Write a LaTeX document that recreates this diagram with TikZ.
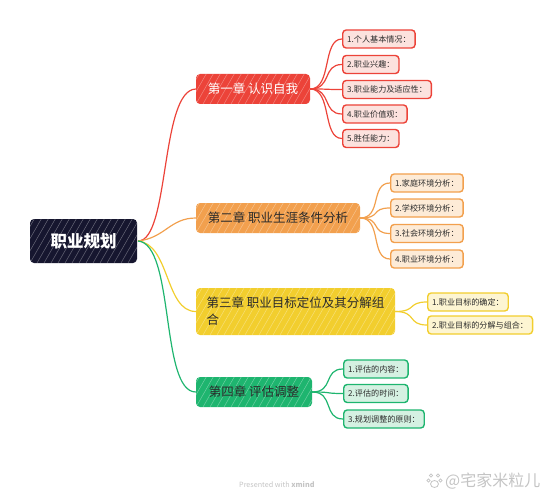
\documentclass[tikz,border=0pt]{standalone}
\usepackage{fontspec}
\setmainfont{Noto Sans CJK SC}
\newfontfamily\cjk{Noto Sans CJK SC}
\definecolor{rootc}{HTML}{16162F}
\definecolor{redc}{HTML}{EC4339}
\definecolor{redl}{HTML}{FCE2DE}
\definecolor{orac}{HTML}{F2A04E}
\definecolor{oral}{HTML}{FDEBD7}
\definecolor{yelc}{HTML}{F2CE2E}
\definecolor{yell}{HTML}{FDF5D2}
\definecolor{grec}{HTML}{1EB56F}
\definecolor{grel}{HTML}{D5F1E2}
\definecolor{txt}{HTML}{2B2B2B}
\definecolor{foot}{HTML}{C4C4C4}
\tikzset{
  hatch/.style={path picture={
    \foreach \k in {-70,-63,...,220}{
      \draw[white,opacity=#1,line width=.5pt]
        ([xshift=\k pt]path picture bounding box.south west) -- ++(35pt,61pt);
    }}},
  rootbox/.style={fill=rootc, rounded corners=4pt, inner sep=0pt, hatch=.35,
    minimum width=107pt, minimum height=44pt, text=white,
    font=\fontsize{16.5}{19}\selectfont\bfseries},
  chapbox/.style={fill=#1, rounded corners=4pt, inner sep=0pt, hatch=.35,
    minimum height=30pt, font=\fontsize{12.5}{17}\selectfont, text=txt},
  itembox/.style={draw=#1c, fill=#1l, line width=1.4pt, rounded corners=3.5pt,
    inner xsep=4.5pt, inner ysep=0pt, minimum height=18pt, anchor=west,
    font=\fontsize{8.1}{10}\selectfont, text=txt},
  conn/.style={line width=1.2pt, draw=#1},
}
\begin{document}
\begin{tikzpicture}[x=1pt,y=-1pt]
\useasboundingbox (0,0) rectangle (557,500);
% root
\node[rootbox] (root) at (83.5,241) {职业规划};
% chapters
\node[chapbox=redc, minimum width=114pt, text=white] (c1) at (253,89) {第一章 认识自我};
\node[chapbox=orac, minimum width=164pt] (c2) at (278,218) {第二章 职业生涯条件分析};
\node[chapbox=yelc, minimum width=199pt, minimum height=47pt, align=left] (c3) at (295.5,311.5) {第三章 职业目标定位及其分解组\\合};
\node[chapbox=grec, minimum width=116pt] (c4) at (254,392) {第四章 评估调整};
% items red
\node[itembox=red] (r1) at (342,39) {1.个人基本情况：};
\node[itembox=red] (r2) at (342,64.5) {2.职业兴趣：};
\node[itembox=red] (r3) at (342,89.5) {3.职业能力及适应性：};
\node[itembox=red] (r4) at (342,114) {4.职业价值观：};
\node[itembox=red] (r5) at (342,138.5) {5.胜任能力：};
% items orange
\node[itembox=ora] (o1) at (390,183) {1.家庭环境分析：};
\node[itembox=ora] (o2) at (390,208) {2.学校环境分析：};
\node[itembox=ora] (o3) at (390,233.5) {3.社会环境分析：};
\node[itembox=ora] (o4) at (390,259) {4.职业环境分析：};
% items yellow
\node[itembox=yel] (y1) at (427,302) {1.职业目标的确定：};
\node[itembox=yel] (y2) at (427,325) {2.职业目标的分解与组合：};
% items green
\node[itembox=gre] (g1) at (343,369) {1.评估的内容：};
\node[itembox=gre] (g2) at (343,393.5) {2.评估的时间：};
\node[itembox=gre] (g3) at (343,419) {3.规划调整的原则：};
% root connectors
\coordinate (rs) at (138,241);
\draw[conn=redc] (rs) .. controls (170,241) and (160,90) .. (c1.west);
\draw[conn=orac] (rs) .. controls (165,238) and (170,218) .. (c2.west);
\draw[conn=yelc] (rs) .. controls (170,244) and (165,311.5) .. (c3.west);
\draw[conn=grec] (rs) .. controls (175,244) and (160,392) .. (c4.west);
% sub connectors
\foreach \t in {r1,r2,r3,r4,r5}{\draw[conn=redc] (c1.east) .. controls +(22,0) and +(-20,0) .. (\t.west);}
\foreach \t in {o1,o2,o3,o4}{\draw[conn=orac] (c2.east) .. controls +(22,0) and +(-20,0) .. (\t.west);}
\foreach \t in {y1,y2}{\draw[conn=yelc] (c3.east) .. controls +(22,0) and +(-20,0) .. (\t.west);}
\foreach \t in {g1,g2,g3}{\draw[conn=grec] (c4.east) .. controls +(22,0) and +(-20,0) .. (\t.west);}
% footer
\node[text=foot, anchor=west, inner sep=0pt, font=\fontsize{7.2}{9}\selectfont] (pw) at (239,485) {Presented with \textbf{xmind}};
\node[text=foot, anchor=west, inner sep=0pt, font=\fontsize{16}{18}\selectfont] (wm) at (445,481) {@宅家米粒儿};
\begin{scope}[draw=foot, line width=.8pt]
  \draw (431,475.5) circle (1.6);
  \draw (438,475.5) circle (1.6);
  \draw (428.5,480.5) circle (1.6);
  \draw (440.5,480.5) circle (1.6);
  \draw (434.5,484) ellipse (4 and 3.5);
\end{scope}
\end{tikzpicture}
\end{document}
